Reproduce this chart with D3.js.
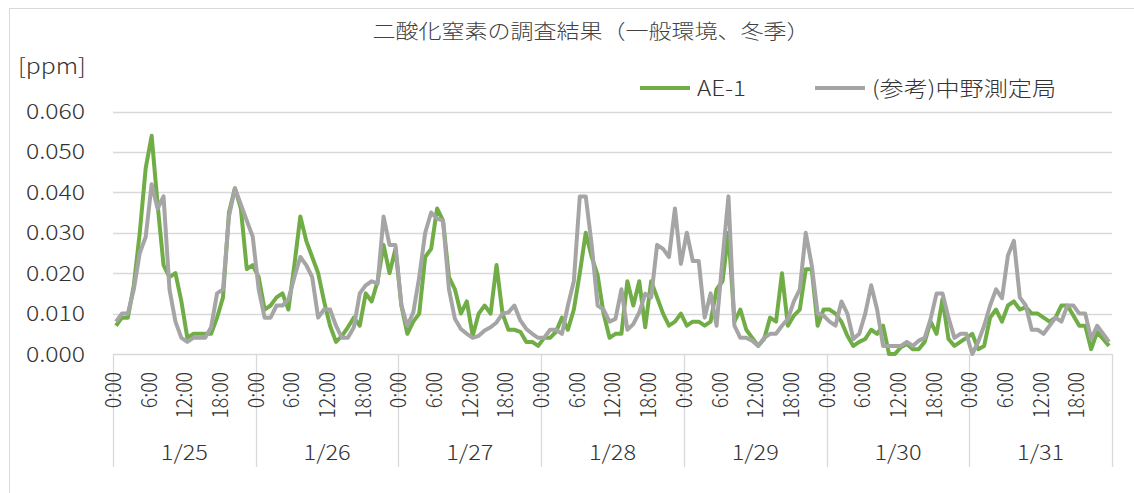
<!DOCTYPE html>
<html>
<head>
<meta charset="utf-8">
<script src="https://cdn.jsdelivr.net/npm/d3@7"></script>
<style>
  body { margin: 0; background: #fff; }
  text { font-family: "Noto Sans CJK JP", "Noto Sans", sans-serif; font-weight: 300; }
</style>
</head>
<body>
<div id="container"></div>
<script>
/* CONSTANTS AND GLOBALS */
const width = 1134,
  height = 493,
  sx = 1.15; // text in the source image is stretched sideways

const days = ["1/25", "1/26", "1/27", "1/28", "1/29", "1/30", "1/31"];
const hourLabels = ["0:00", "6:00", "12:00", "18:00"];
const hourTicks = [0, 6, 12, 18];
const yTicks = [0, 0.01, 0.02, 0.03, 0.04, 0.05, 0.06];
const seriesNames = ["AE-1", "(参考)中野測定局"];

// hourly values, one row per day
const ae1 = [
  0.007,0.009,0.009,0.017,0.030,0.046,0.054,0.037,0.022,0.019,0.020,0.013,0.004,0.005,0.005,0.005,0.005,0.009,0.014,0.035,0.041,0.036,0.021,0.022,
  0.019,0.011,0.012,0.014,0.015,0.011,0.022,0.034,0.028,0.024,0.020,0.013,0.007,0.003,0.0045,0.0066,0.009,0.007,0.015,0.013,0.018,0.027,0.020,0.026,
  0.012,0.005,0.008,0.010,0.024,0.026,0.036,0.033,0.019,0.016,0.010,0.013,0.0045,0.010,0.012,0.010,0.022,0.010,0.006,0.006,0.0055,0.003,0.003,0.002,
  0.004,0.004,0.0055,0.009,0.006,0.011,0.020,0.030,0.024,0.0195,0.010,0.004,0.005,0.005,0.018,0.012,0.018,0.0066,0.018,0.014,0.010,0.007,0.008,0.010,
  0.007,0.008,0.008,0.007,0.008,0.016,0.018,0.030,0.008,0.011,0.006,0.004,0.002,0.0037,0.009,0.008,0.020,0.007,0.0095,0.011,0.021,0.021,0.007,0.011,
  0.011,0.010,0.008,0.0045,0.002,0.003,0.0037,0.006,0.005,0.007,0.000,0.000,0.0017,0.0025,0.0012,0.0012,0.003,0.008,0.005,0.0136,0.0037,0.002,0.003,0.004,
  0.005,0.0012,0.002,0.009,0.011,0.008,0.012,0.013,0.011,0.0116,0.010,0.010,0.009,0.008,0.009,0.012,0.012,0.0095,0.007,0.007,0.0012,0.0054,0.0037,0.002
];
const nakano = [
  0.008,0.010,0.010,0.016,0.025,0.029,0.042,0.036,0.039,0.016,0.008,0.004,0.003,0.004,0.004,0.004,0.0066,0.015,0.016,0.034,0.041,0.037,0.033,0.029,
  0.016,0.009,0.009,0.012,0.012,0.0135,0.019,0.024,0.022,0.019,0.009,0.011,0.011,0.007,0.004,0.004,0.0066,0.015,0.017,0.018,0.0174,0.034,0.027,0.027,
  0.012,0.007,0.0103,0.019,0.030,0.035,0.0335,0.033,0.016,0.0087,0.0062,0.005,0.004,0.0045,0.0058,0.0066,0.0078,0.010,0.0103,0.012,0.0083,0.0062,0.005,0.004,
  0.004,0.006,0.006,0.005,0.012,0.018,0.039,0.039,0.027,0.012,0.011,0.008,0.0087,0.016,0.006,0.0074,0.0103,0.0149,0.014,0.027,0.026,0.024,0.036,0.0223,
  0.030,0.023,0.023,0.009,0.015,0.007,0.0235,0.039,0.007,0.004,0.004,0.0033,0.002,0.004,0.005,0.005,0.007,0.0087,0.013,0.016,0.030,0.022,0.010,0.0095,
  0.008,0.007,0.013,0.010,0.0037,0.005,0.010,0.017,0.011,0.002,0.002,0.002,0.002,0.003,0.002,0.0033,0.004,0.0087,0.015,0.015,0.009,0.004,0.005,0.005,
  0.000,0.003,0.007,0.012,0.016,0.0138,0.0244,0.028,0.014,0.012,0.006,0.006,0.005,0.007,0.009,0.008,0.012,0.012,0.010,0.010,0.0037,0.007,0.005,0.003
];

const plot = { left: 113, right: 1112, top: 111.5, bottom: 354 };

const svg = d3.select("#container")
  .append("svg")
  .attr("width", width)
  .attr("height", height);

// chart frame
svg.append("rect")
  .attr("x", 9.5).attr("y", 8.5)
  .attr("width", width).attr("height", height)
  .attr("fill", "#fff")
  .attr("stroke", "#d9d9d9");

/* SCALES */
const xScale = d3.scaleBand()
  .domain(d3.range(ae1.length))
  .range([plot.left, plot.right])
  .paddingInner(0).paddingOuter(0);
const xc = i => xScale(i) + xScale.bandwidth() / 2;

const yScale = d3.scaleLinear()
  .domain([0, 0.06])
  .range([plot.bottom, plot.top]);

const dayScale = d3.scaleBand()
  .domain(days)
  .range([plot.left, plot.right]);

// stretched text helper
function label(g, x, y, txt, anchor) {
  return g.append("text")
    .attr("transform", `translate(${x},${y}) scale(${sx},1)`)
    .attr("text-anchor", anchor)
    .text(txt);
}

/* GRIDLINES + Y AXIS */
svg.append("g")
  .selectAll("line")
  .data(yTicks)
  .join("line")
  .attr("x1", plot.left).attr("x2", plot.right)
  .attr("y1", d => Math.round(yScale(d)) + 0.5)
  .attr("y2", d => Math.round(yScale(d)) + 0.5)
  .attr("stroke", "#d9d9d9")
  .attr("stroke-width", 1.3);

const yLab = svg.append("g")
  .attr("fill", "#333")
  .attr("font-size", 21.5);
yTicks.forEach(t => {
  label(yLab, 85, yScale(t) + 7.5, d3.format(".3f")(t), "end");
});
label(yLab, 18, 74, "[ppm]", "start");

/* X AXIS (two level) */
const xAxis = svg.append("g");
xAxis.selectAll(".sep")
  .data(d3.range(days.length + 1))
  .join("line")
  .attr("class", "sep")
  .attr("x1", i => i < days.length ? Math.round(dayScale(days[i])) + 0.5 : plot.right + 0.5)
  .attr("x2", i => i < days.length ? Math.round(dayScale(days[i])) + 0.5 : plot.right + 0.5)
  .attr("y1", plot.bottom)
  .attr("y2", 467)
  .attr("stroke", "#d9d9d9")
  .attr("stroke-width", 1.3);

const hourG = xAxis.append("g")
  .attr("fill", "#333")
  .attr("font-size", 19.5);
days.forEach((d, di) => {
  hourTicks.forEach((h, hi) => {
    const x = xc(di * 24 + h) + 5;
    hourG.append("text")
      .attr("transform", `translate(${x},372) scale(${sx},1) rotate(-90)`)
      .attr("text-anchor", "end")
      .text(hourLabels[hi]);
  });
});

const dayG = xAxis.append("g")
  .attr("fill", "#333")
  .attr("font-size", 20.5);
days.forEach(d => {
  label(dayG, dayScale(d) + dayScale.bandwidth() / 2, 460, d, "middle");
});

/* LINES */
const line = d3.line()
  .x((d, i) => xc(i))
  .y(d => yScale(d));

svg.append("path")
  .datum(ae1)
  .attr("d", line)
  .attr("fill", "none")
  .attr("stroke", "#70ad47")
  .attr("stroke-width", 4)
  .attr("stroke-linejoin", "round");

svg.append("path")
  .datum(nakano)
  .attr("d", line)
  .attr("fill", "none")
  .attr("stroke", "#a5a5a5")
  .attr("stroke-width", 4)
  .attr("stroke-linejoin", "round");

/* TITLE + LEGEND */
const title = svg.append("g")
  .attr("fill", "#404040")
  .attr("font-size", 20);
label(title, 591, 39, "二酸化窒素の調査結果（一般環境、冬季）", "middle");

const legend = svg.append("g")
  .attr("font-size", 21)
  .attr("fill", "#333");
const legendItems = [
  { name: seriesNames[0], color: "#70ad47", x: 640 },
  { name: seriesNames[1], color: "#a5a5a5", x: 815 }
];
legendItems.forEach(it => {
  legend.append("line")
    .attr("x1", it.x).attr("x2", it.x + 50)
    .attr("y1", 88).attr("y2", 88)
    .attr("stroke", it.color)
    .attr("stroke-width", 4);
  label(legend, it.x + 57, 95.5, it.name, "start");
});
</script>
</body>
</html>
